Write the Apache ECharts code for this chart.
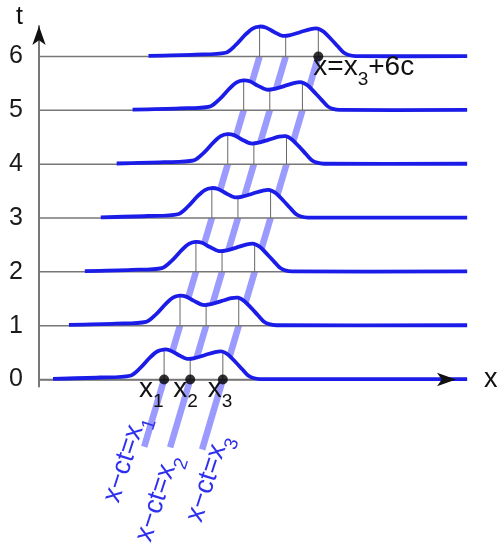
<!DOCTYPE html>
<html><head><meta charset="utf-8">
<script src="https://cdn.jsdelivr.net/npm/echarts@6/dist/echarts.min.js"></script>
<style>html,body{margin:0;padding:0;background:#fff}#c{width:500px;height:548px}</style>
</head><body><div id="c"></div>
<script>
// ---------------- data ----------------
const tTicks = [0, 1, 2, 3, 4, 5, 6];
const rowT = [0, 1, 2, 3, 4, 5, 6];
const rowShift = [0, 1, 2, 3, 4, 5, 6];            // horizontal offset of each row's profile (units of c)
const profileX = [0.88, 3.84, 5.72, 6.35, 6.98, 7.42, 7.84, 8.24, 8.74, 9.31, 9.81, 10.44, 11.07, 11.51, 11.89, 12.33, 12.77, 13.14, 13.46, 13.9];
const profileH = [0.013, 0.037, 0.07, 0.21, 0.41, 0.52, 0.557, 0.54, 0.46, 0.385, 0.40, 0.455, 0.51, 0.52, 0.46, 0.33, 0.19, 0.074, 0.028, 0.008];
const tailEndX = 26.9;
const charX0 = [7.86, 9.50, 11.55];                // x1, x2, x3
const charH = [0.557, 0.385, 0.515];               // profile height at x1, x2, x3
const charStartT = [-1.25, -1.26, -1.30];
const charEndT = 6;
const dotX = [7.86, 9.50, 11.55, 17.55];
const dotT = [0, 0, 0, 6];
const charLabels = ['x\u2212ct=x{s|1}', 'x\u2212ct=x{s|2}', 'x\u2212ct=x{s|3}'];
const pointLabels = ['x{s|1}', 'x{s|2}', 'x{s|3}', 'x=x{s|3}+6c'];

// ---------------- layout / style ----------------
const FONT = '"Liberation Sans", Arial, sans-serif';
const BLUE = '#1c1ce8';
const LIGHT = '#9a9aff';
const charLabelPos = [[5.42, -1.47], [7.44, -2.20], [10.62, -1.83]];
const pointLabelOffset = [[-25, -12], [-17, -12], [-15, -12], [-5, -11]];
const charAngle = 72 * Math.PI / 180;

function richSub(color, size) {
  return { s: { fontSize: size, fontFamily: FONT, lineHeight: size, verticalAlign: 'bottom', fill: color } };
}

const chart = echarts.init(document.getElementById('c'), null, { renderer: 'canvas' });

const hiddenAxisBits = { axisTick: { show: false }, axisLabel: { show: false }, splitLine: { show: false } };

chart.setOption({
  animation: false,
  backgroundColor: '#fff',
  grid: { left: 39, right: 44, top: 26, bottom: 161.5, containLabel: false, outerBoundsMode: 'none' },
  xAxis: [
    Object.assign({
      type: 'value', min: 0, max: 26.2,
      axisLine: { show: true, onZero: true, lineStyle: { color: '#777', width: 1.5 } },
      name: 'x', nameLocation: 'end', nameGap: 28,
      nameTextStyle: { fontSize: 27, fontFamily: FONT, color: '#111', verticalAlign: 'middle' }
    }, hiddenAxisBits),
    Object.assign({
      type: 'value', min: 0, max: 26.2, position: 'bottom', z: 10,
      axisLine: { show: true, onZero: true, symbol: ['none', 'arrow'], symbolSize: [10, 19], lineStyle: { color: '#111', width: 0 } }
    }, hiddenAxisBits)
  ],
  yAxis: [
    {
      type: 'value', min: -0.13, max: 6.567,
      axisLine: { show: true, onZero: true, lineStyle: { color: '#777', width: 2 } },
      axisTick: { show: false }, splitLine: { show: false },
      axisLabel: { customValues: tTicks, fontSize: 25, fontFamily: FONT, color: '#1a1a1a', margin: 16 },
      name: 't', nameLocation: 'end', nameGap: -4,
      nameTextStyle: { fontSize: 25, fontFamily: FONT, color: '#111', padding: [0, 39, 0, 0] }
    },
    Object.assign({
      type: 'value', min: -0.13, max: 6.567, position: 'left', z: 10,
      axisLine: { show: true, onZero: true, symbol: ['none', 'arrow'], symbolSize: [10, 19], lineStyle: { color: '#111', width: 0 } }
    }, hiddenAxisBits)
  ],
  series: [
    {
      name: 'characteristics', type: 'custom', z: 1, clip: false, silent: true,
      xAxisIndex: 0, yAxisIndex: 0,
      data: charX0.map((x, i) => [x, charStartT[i]]),
      renderItem(params, api) {
        const x0 = api.value(0), tb = api.value(1);
        const p0 = api.coord([x0 + tb, tb]);
        const p1 = api.coord([x0 + charEndT, charEndT]);
        return { type: 'line', shape: { x1: p0[0], y1: p0[1], x2: p1[0], y2: p1[1] },
                 style: { stroke: LIGHT, lineWidth: 6.5, lineCap: 'butt' } };
      }
    },
    {
      name: 'rows', type: 'custom', z: 2, clip: false, silent: true,
      xAxisIndex: 0, yAxisIndex: 0,
      data: rowT.map((t, i) => [rowShift[i], t]),
      renderItem(params, api) {
        const s = api.value(0), t = api.value(1);
        const pts = profileX.map((x, j) => api.coord([x + s, t + profileH[j]]));
        pts.push(api.coord([tailEndX, t + profileH[profileH.length - 1]]));
        const poly = pts.slice();
        poly.push(api.coord([tailEndX, t]));
        poly.push(api.coord([profileX[0] + s, t]));
        const b0 = api.coord([0, t]), b1 = api.coord([tailEndX, t]);
        const children = [
          { type: 'polygon', shape: { points: poly, smooth: 0 }, style: { fill: '#fff', stroke: null } },
          { type: 'line', shape: { x1: b0[0], y1: b0[1], x2: b1[0], y2: b1[1] }, style: { stroke: '#777', lineWidth: 1.5 } }
        ];
        charX0.forEach((x, i) => {
          const a = api.coord([x + s, t]), b = api.coord([x + s, t + charH[i]]);
          children.push({ type: 'line', shape: { x1: a[0], y1: a[1], x2: b[0], y2: b[1] }, style: { stroke: '#666', lineWidth: 1 } });
        });
        children.push({ type: 'polyline', shape: { points: pts, smooth: 0.3 },
                        style: { stroke: BLUE, lineWidth: 3.8, fill: null, lineJoin: 'round', lineCap: 'butt' } });
        return { type: 'group', children };
      }
    },
    {
      name: 'dots', type: 'scatter', z: 4, silent: true, clip: false,
      xAxisIndex: 0, yAxisIndex: 0,
      symbolSize: 10, itemStyle: { color: '#000' },
      data: dotX.map((x, i) => [x, dotT[i]])
    },
    {
      name: 'pointLabels', type: 'custom', z: 5, clip: false, silent: true,
      xAxisIndex: 0, yAxisIndex: 0,
      data: dotX.map((x, i) => [x, dotT[i]]),
      renderItem(params, api) {
        const i = params.dataIndex;
        const p = api.coord([api.value(0), api.value(1)]);
        const off = pointLabelOffset[i];
        return { type: 'text', x: p[0] + off[0], y: p[1] + off[1],
          style: { text: pointLabels[i], fontSize: 28, fontFamily: FONT, lineHeight: 44, fill: '#111',
                   align: 'left', verticalAlign: 'top', rich: richSub('#111', 19) } };
      }
    },
    {
      name: 'charLabels', type: 'custom', z: 5, clip: false, silent: true,
      xAxisIndex: 0, yAxisIndex: 0,
      data: charLabelPos,
      renderItem(params, api) {
        const i = params.dataIndex;
        const p = api.coord([api.value(0), api.value(1)]);
        return { type: 'text', x: p[0], y: p[1], rotation: charAngle,
          style: { text: charLabels[i], fontSize: 27, fontFamily: FONT, lineHeight: 44, fill: '#2f2fee',
                   align: 'center', verticalAlign: 'middle', rich: richSub('#2f2fee', 19) } };
      }
    }
  ]
});
</script></body></html>
